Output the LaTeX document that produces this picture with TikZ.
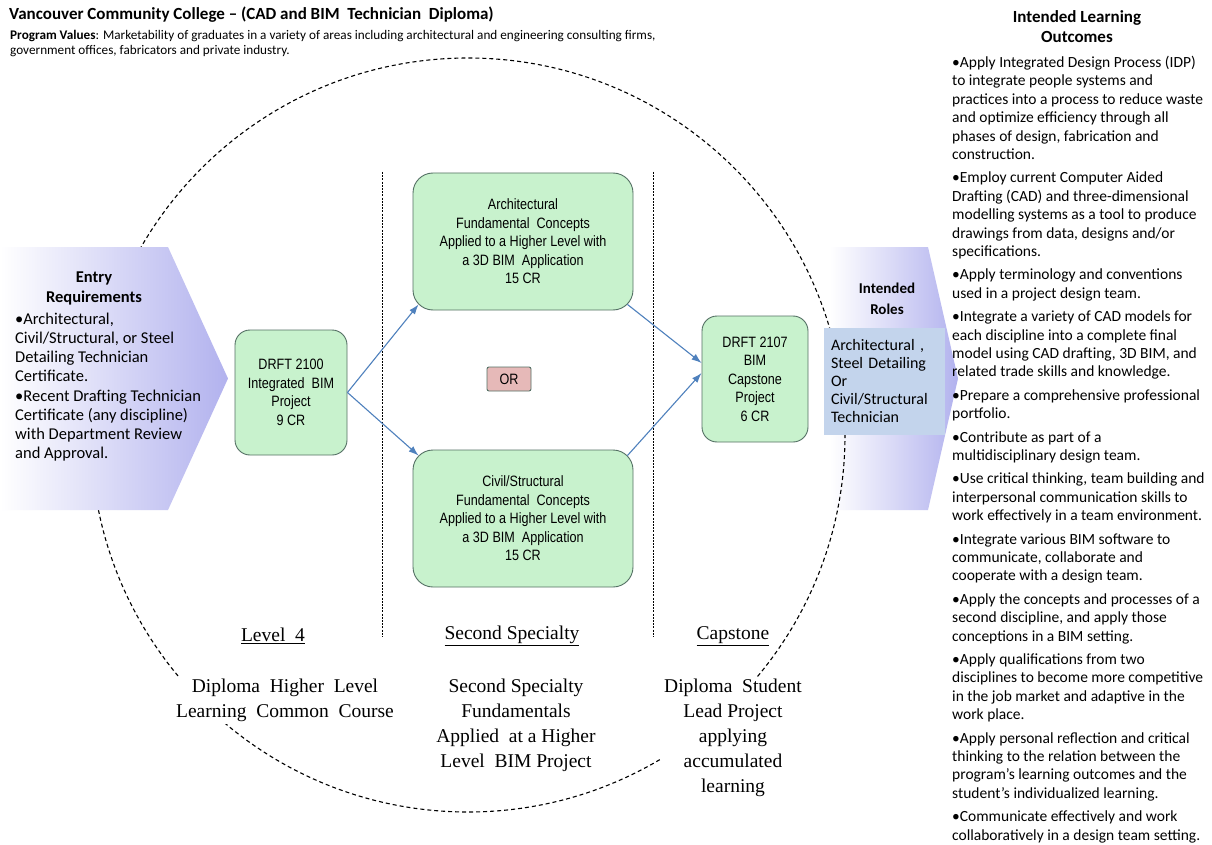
\documentclass[tikz,border=0pt]{standalone}
\usepackage{fontspec}
\setmainfont{Carlito}
\newfontfamily\narrowsans[FakeStretch=0.84]{Liberation Sans}
\newfontfamily\plainserif{Liberation Serif}
\usetikzlibrary{arrows.meta,calc}
\definecolor{mint}{RGB}{200,242,205}
\definecolor{mintedge}{RGB}{84,112,100}
\definecolor{rose}{RGB}{230,185,184}
\definecolor{flowblue}{RGB}{79,129,189}
\definecolor{lavender}{RGB}{178,178,238}
\definecolor{roleblue}{RGB}{195,212,236}

\begin{document}
\begin{tikzpicture}[x=1pt,y=-1pt,
    course/.style={draw=mintedge, fill=mint, line width=0.9pt, rounded corners=15pt, align=center, inner sep=0pt, font=\narrowsans\fontsize{15}{18.5}\selectfont},
    flow/.style={draw=flowblue, line width=1.1pt, -{Latex[length=10pt,width=7pt]}},
    divider/.style={line width=0.7pt, dash pattern=on 2pt off 1.2pt},
    stage/.style={font=\plainserif\fontsize{19.5}{25}\selectfont, align=center, fill=white, inner sep=2pt}]
    \fill[white] (0,0) rectangle (1212,845);
    \useasboundingbox (0,0) rectangle (1212,845);

    % right chevron lies under the circle, left one over it
    \shade[left color=white, right color=lavender] (830,247) -- (928,247) -- (958,378.5) -- (928,510) -- (830,510) -- cycle;
    \draw[line width=1.1pt, dash pattern=on 4pt off 3pt] (468,435) circle[radius=377pt];
    \draw[divider] (382,172) -- (382,637);
    \draw[divider] (653,172) -- (653,637);
    \shade[left color=white, right color=lavender] (0,247) -- (168,247) -- (228,378.5) -- (168,510) -- (0,510) -- cycle;

    \node[font=\bfseries\fontsize{17}{20}\selectfont, anchor=west, inner sep=0pt] (Title) at (9,15) {Vancouver~Community College – (CAD and BIM~~Technician~~Diploma)};
    \node[font=\fontsize{13.2}{15}\selectfont, anchor=north west, align=left, inner sep=0pt] (Values) at (10,30) {\textbf{Program Values}: Marketability of graduates in a variety of areas including architectural and engineering consulting firms,\\government offices, fabricators and private industry.};

    \node[font=\bfseries\fontsize{16.5}{20}\selectfont, align=center] (EntryHead) at (94,288) {Entry\\Requirements};
    \node[font=\fontsize{16.5}{19}\selectfont, align=left, anchor=north west, inner sep=0pt] (EntryList) at (15,313) {\textbullet Architectural,\\Civil/Structural, or Steel\\Detailing Technician\\Certificate.\\[1pt]\textbullet Recent Drafting Technician\\Certificate (any discipline)\\with Department Review\\and Approval.};

    \node[font=\bfseries\fontsize{15}{21}\selectfont, align=center] (RolesHead) at (887,299) {Intended\\Roles};
    \node[fill=roleblue, minimum width=121pt, minimum height=107pt, text width=107pt, align=left, inner sep=0pt, font=\fontsize{16}{18}\selectfont] (Roles) at (884.5,381.5) {Architectural ,\\Steel Detailing\\Or\\Civil/Structural\\Technician};

    \node[course, minimum width=112pt, minimum height=125pt] (Core) at (291,392.5) {DRFT 2100\\Integrated~~BIM\\Project\\9 CR};
    \node[course, rounded corners=20pt, minimum width=220pt, minimum height=137pt] (Arch) at (523,241.5) {Architectural\\Fundamental~~Concepts\\Applied to a Higher Level with\\a 3D BIM~~Application\\15 CR};
    \node[course, rounded corners=20pt, minimum width=220pt, minimum height=137pt] (Civil) at (523,518.5) {Civil/Structural\\Fundamental~~Concepts\\Applied to a Higher Level with\\a 3D BIM~~Application\\15 CR};
    \node[course, minimum width=106pt, minimum height=126pt] (Cap) at (755,379) {DRFT 2107\\BIM\\Capstone\\Project\\6 CR};
    \node[draw=mintedge, fill=rose, rounded corners=2pt, line width=0.9pt, minimum width=44pt, minimum height=24pt, inner sep=0pt, font=\narrowsans\fontsize{15}{18}\selectfont] (Or) at (509,379) {OR};

    \draw[flow] (Core.east) -- ($(Arch.south west)+(6,-6)$);
    \draw[flow] (Core.east) -- ($(Civil.north west)+(6,6)$);
    \draw[flow] ($(Arch.south east)+(-6,-6)$) -- ($(Cap.west)+(0,-16)$);
    \draw[flow] ($(Civil.north east)+(-6,6)$) -- ($(Cap.west)+(0,-6)$);

    \node[stage] (LevelHead) at (273,636) {\underline{Level~~4}};
    \node[stage] (SecondHead) at (512,636) {\underline{Second Specialty}};
    \node[stage] (CapHead) at (733,636) {\underline{Capstone}};
    \node[stage] (LevelText) at (285,700.5) {Diploma~~Higher~~Level\\Learning~~Common~~Course};
    \node[stage] (SecondText) at (516,725) {Second Specialty\\Fundamentals\\Applied~~at a Higher\\Level~~BIM Project};
    \node[stage] (CapText) at (733,737.5) {Diploma~~Student\\Lead Project\\applying\\accumulated\\learning};

    \node[font=\bfseries\fontsize{17}{20}\selectfont, align=center] (OutHead) at (1077,27) {Intended Learning\\Outcomes};
    \node[font=\fontsize{15.5}{18.4}\selectfont, align=left, anchor=north west, inner sep=0pt] (Outcomes) at (952,56) {\textbullet Apply Integrated Design Process (IDP)\\to integrate people systems and\\practices into a process to reduce waste\\and optimize efficiency through all\\phases of design, fabrication and\\construction.\\[5pt]
    \textbullet Employ current Computer Aided\\Drafting (CAD) and three-dimensional\\modelling systems as a tool to produce\\drawings from data, designs and/or\\specifications.\\[5pt]
    \textbullet Apply terminology and conventions\\used in a project design team.\\[5pt]
    \textbullet Integrate a variety of CAD models for\\each discipline into a complete final\\model using CAD drafting, 3D BIM, and\\related trade skills and knowledge.\\[5pt]
    \textbullet Prepare a comprehensive professional\\portfolio.\\[5pt]
    \textbullet Contribute as part of a\\multidisciplinary design team.\\[5pt]
    \textbullet Use critical thinking, team building and\\interpersonal communication skills to\\work effectively in a team environment.\\[5pt]
    \textbullet Integrate various BIM software to\\communicate, collaborate and\\cooperate with a design team.\\[5pt]
    \textbullet Apply the concepts and processes of a\\second discipline, and apply those\\conceptions in a BIM setting.\\[5pt]
    \textbullet Apply qualifications from two\\disciplines to become more competitive\\in the job market and adaptive in the\\work place.\\[5pt]
    \textbullet Apply personal reflection and critical\\thinking to the relation between the\\program's learning outcomes and the\\student's individualized learning.\\[5pt]
    \textbullet Communicate effectively and work\\collaboratively in a design team setting.};
\end{tikzpicture}
\end{document}
